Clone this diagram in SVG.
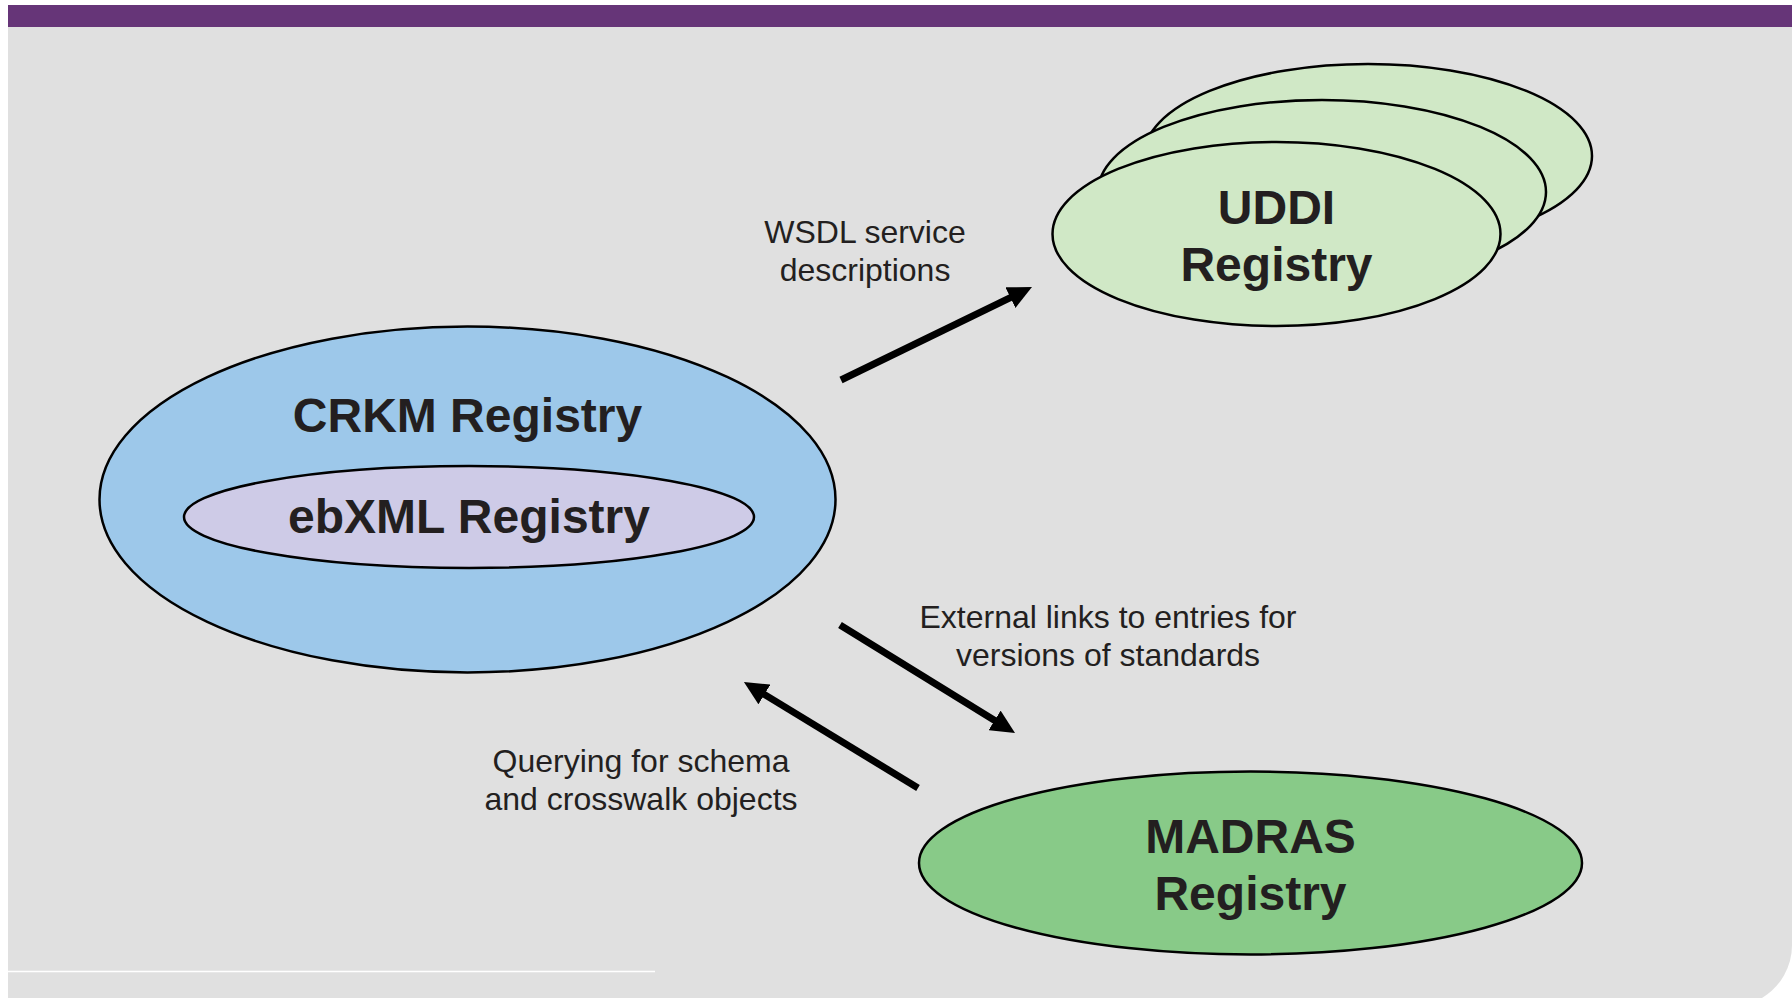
<svg xmlns="http://www.w3.org/2000/svg" width="1792" height="998" viewBox="0 0 1792 998">
<style>
.node{stroke:#000;stroke-width:2.5}
.big{font-family:"Liberation Sans",Arial,sans-serif;font-weight:bold;font-size:48px;fill:#231f20;text-anchor:middle}
.lbl{font-family:"Liberation Sans",Arial,sans-serif;font-size:32px;fill:#231f20;text-anchor:middle}
.conn{stroke:#000;stroke-width:7;fill:none;marker-end:url(#ah)}
</style>
<defs>
<marker id="ah" markerUnits="userSpaceOnUse" viewBox="0 0 24 23" markerWidth="24" markerHeight="23" refX="4" refY="11.5" orient="auto">
<path d="M0,0 L24,11.5 L0,23 z" fill="#000"/>
</marker>
</defs>
<rect width="1792" height="998" fill="#fff"/>
<path d="M8,27 H1792 V945 A62,62 0 0 1 1762,998 H8 Z" fill="#e0e0e0"/>
<rect x="8" y="5" width="1784" height="22" fill="#663578"/>
<line x1="8" y1="971.5" x2="655" y2="971.5" stroke="#fff" stroke-width="1.5"/>
<g id="crkm">
<ellipse class="node" cx="467.5" cy="499.5" rx="368" ry="173" fill="#9dc8ea"/>
<text class="big" x="467.5" y="432">CRKM Registry</text>
</g>
<g id="ebxml">
<ellipse class="node" cx="469" cy="517" rx="285" ry="51" fill="#cecbe7"/>
<text class="big" x="469" y="533">ebXML Registry</text>
</g>
<g id="uddi">
<ellipse class="node" cx="1368" cy="156" rx="224" ry="92" fill="#d0e8c6"/>
<ellipse class="node" cx="1322" cy="192" rx="224" ry="92" fill="#d0e8c6"/>
<ellipse class="node" cx="1276.5" cy="234" rx="224" ry="92" fill="#d0e8c6"/>
<text class="big" x="1276.5" y="224">UDDI</text>
<text class="big" x="1276.5" y="281">Registry</text>
</g>
<g id="madras">
<ellipse class="node" cx="1250.5" cy="863" rx="331.5" ry="91.5" fill="#88ca88"/>
<text class="big" x="1250.5" y="853">MADRAS</text>
<text class="big" x="1250.5" y="910">Registry</text>
</g>
<g id="connectors">
<line class="conn" x1="841" y1="380" x2="1014" y2="295.8"/>
<line class="conn" x1="840" y1="625" x2="998" y2="722.5"/>
<line class="conn" x1="918" y1="788" x2="761" y2="692.4"/>
</g>
<g id="labels">
<text class="lbl" x="865" y="243">WSDL service</text>
<text class="lbl" x="865" y="281">descriptions</text>
<text class="lbl" x="1108" y="628">External links to entries for</text>
<text class="lbl" x="1108" y="666">versions of standards</text>
<text class="lbl" x="641" y="772">Querying for schema</text>
<text class="lbl" x="641" y="810">and crosswalk objects</text>
</g>
</svg>
